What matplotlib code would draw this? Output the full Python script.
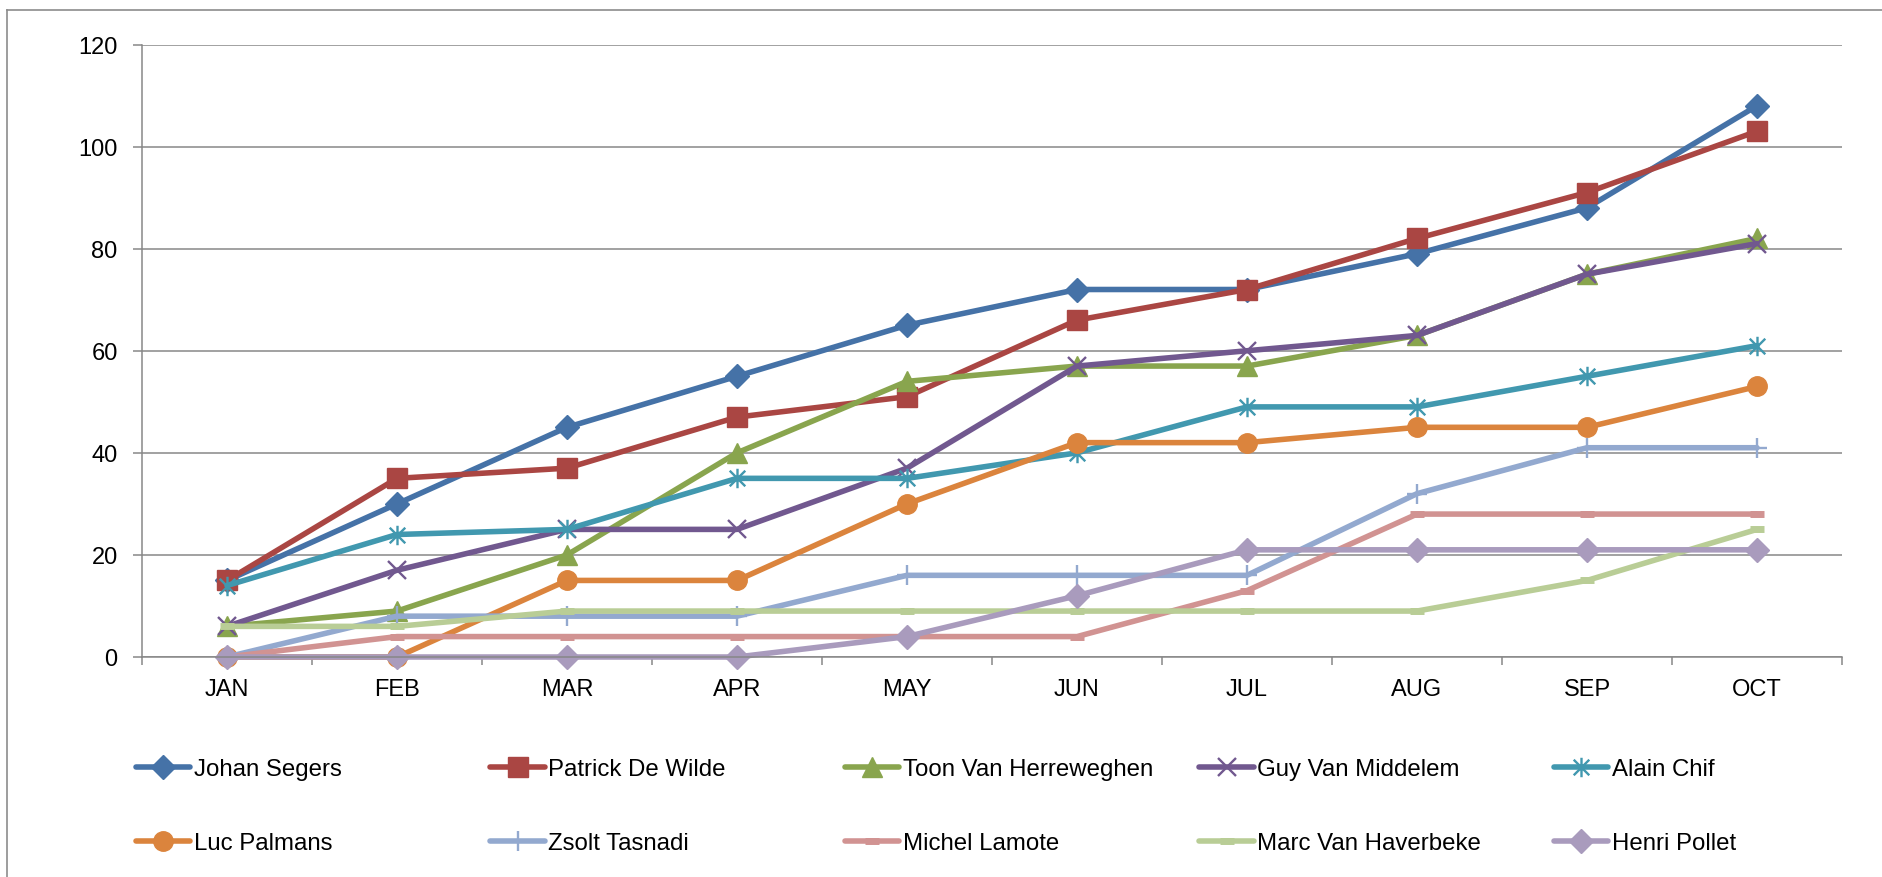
import matplotlib
matplotlib.use("Agg")
import matplotlib.pyplot as plt
from matplotlib.path import Path
from matplotlib.lines import Line2D
import numpy as np

plt.rcParams['font.family'] = ['Liberation Sans', 'DejaVu Sans']

months = ["JAN", "FEB", "MAR", "APR", "MAY", "JUN", "JUL", "AUG", "SEP", "OCT"]

names = ["Johan Segers", "Patrick De Wilde", "Toon Van Herreweghen", "Guy Van Middelem",
         "Alain Chif", "Luc Palmans", "Zsolt Tasnadi", "Michel Lamote",
         "Marc Van Haverbeke", "Henri Pollet"]

johan = [15, 30, 45, 55, 65, 72, 72, 79, 88, 108]
patrick = [15, 35, 37, 47, 51, 66, 72, 82, 91, 103]
toon = [6, 9, 20, 40, 54, 57, 57, 63, 75, 82]
guy = [6, 17, 25, 25, 37, 57, 60, 63, 75, 81]
alain = [14, 24, 25, 35, 35, 40, 49, 49, 55, 61]
luc = [0, 0, 15, 15, 30, 42, 42, 45, 45, 53]
zsolt = [0, 8, 8, 8, 16, 16, 16, 32, 41, 41]
michel = [0, 4, 4, 4, 4, 4, 13, 28, 28, 28]
marc = [6, 6, 9, 9, 9, 9, 9, 9, 15, 25]
henri = [0, 0, 0, 0, 4, 12, 21, 21, 21, 21]

series = [johan, patrick, toon, guy, alain, luc, zsolt, michel, marc, henri]

colors = ["#4572A7", "#AA4643", "#89A54E", "#71588F", "#4198AF",
          "#DB843D", "#93A9CF", "#D19392", "#B9CD96", "#A99BBD"]

# excel style star: x with a vertical bar through it
star = Path([(-1, -1), (1, 1), (-1, 1), (1, -1), (0, -1.25), (0, 1.25)],
            [Path.MOVETO, Path.LINETO, Path.MOVETO, Path.LINETO, Path.MOVETO, Path.LINETO])

# marker, size, edge width, filled
mstyle = [("D", 12.5, 1, True), ("s", 14, 1, True), ("^", 14, 1, True), ("x", 13, 1.7, False),
          (star, 14, 1.7, False), ("o", 14, 1, True), ("+", 15, 1.7, False),
          ("_", 10, 5, False), ("_", 10, 5, False), ("D", 12.5, 1, True)]

W, H = 1883, 878
fig = plt.figure(figsize=(W / 100, H / 100), dpi=100)
ax = fig.add_axes([142 / W, 1 - 658 / H, 1700 / W, 612.5 / H])

x = np.arange(len(months))
lines = []
for vals, c, (m, ms, mew, filled) in zip(series, colors, mstyle):
    ln, = ax.plot(x, vals, color=c, lw=4, marker=m, ms=ms, mew=mew,
                  mfc=c if filled else "none", mec=c,
                  solid_capstyle="round", solid_joinstyle="round", clip_on=False)
    lines.append(ln)

grid_c = "#878787"
ax.set_xlim(-0.5, 9.5)
ax.set_ylim(0, 120)
ax.set_yticks(range(0, 121, 20))
ax.set_xticks(x)
ax.set_xticklabels(months)
ax.set_xticks(np.arange(-0.5, 10, 1), minor=True)
ax.tick_params(axis="x", which="major", length=0, pad=15, labelsize=17)
ax.tick_params(axis="x", which="minor", length=6, width=1.1, color=grid_c, direction="out")
ax.tick_params(axis="y", length=6.5, width=1.1, color=grid_c, pad=11, labelsize=17)
ax.grid(axis="y", color=grid_c, lw=1.1)
ax.set_axisbelow(True)
for s in ["top", "right"]:
    ax.spines[s].set_visible(False)
for s in ["left", "bottom"]:
    ax.spines[s].set_color(grid_c)
    ax.spines[s].set_linewidth(1.1)

# legend: two rows of five evenly spaced entries
for i, (ln, nm) in enumerate(zip(lines, names)):
    col, row = i % 5, i // 5
    fx = (136 + col * 354.5) / W
    fy = 1 - (770 + row * 74) / H
    fig.legend([ln], [nm], loc="center left", bbox_to_anchor=(fx, fy), frameon=False,
               fontsize=17.3, handlelength=2.25, handletextpad=0.15,
               borderpad=0, borderaxespad=0, numpoints=1)

# outer chart frame (only top and left edges visible)
fig.add_artist(Line2D([7 / W, 7 / W], [0, 1 - 11 / H], color="#8C8C8C", lw=1.2))
fig.add_artist(Line2D([7 / W, 1], [1 - 11 / H, 1 - 11 / H], color="#8C8C8C", lw=1.2))

fig.savefig("out.png", dpi=100)
